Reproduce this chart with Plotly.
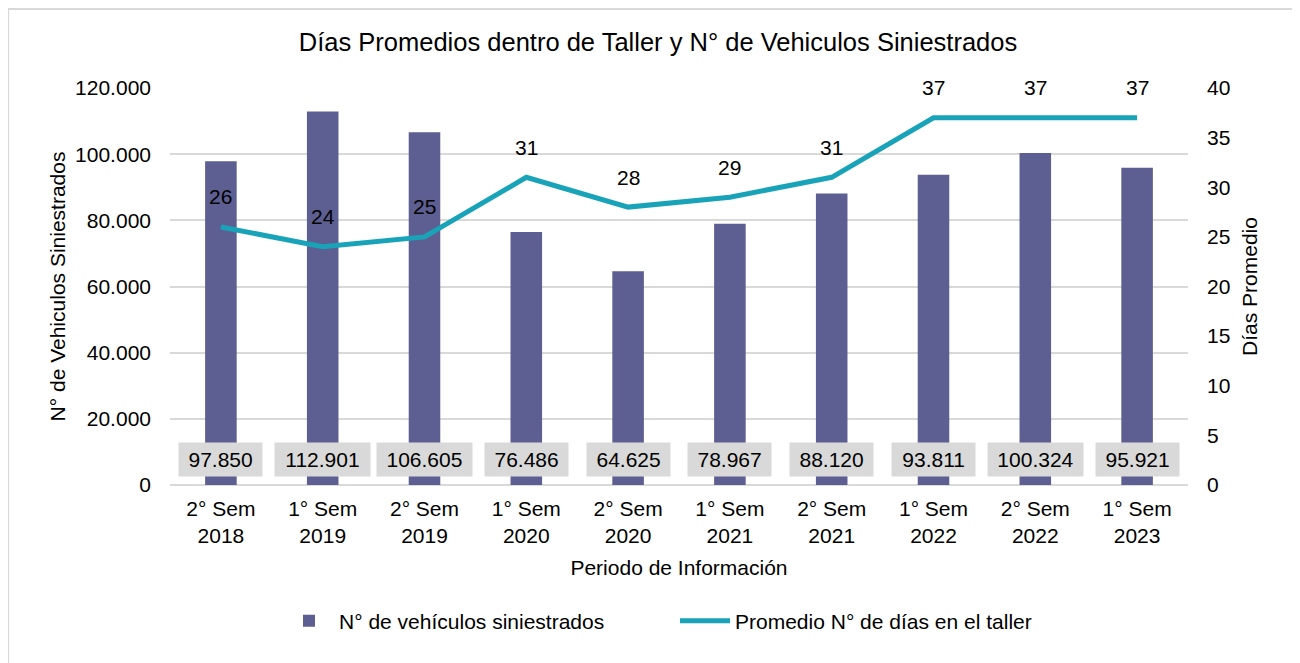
import plotly.graph_objects as go

categories = ["2° Sem<br>2018", "1° Sem<br>2019", "2° Sem<br>2019", "1° Sem<br>2020", "2° Sem<br>2020",
              "1° Sem<br>2021", "2° Sem<br>2021", "1° Sem<br>2022", "2° Sem<br>2022", "1° Sem<br>2023"]
vehiculos = [97850, 112901, 106605, 76486, 64625, 78967, 88120, 93811, 100324, 95921]
dias = [26, 24, 25, 31, 28, 29, 31, 37, 37, 37]
left_ticks = [0, 20000, 40000, 60000, 80000, 100000, 120000]
right_ticks = [0, 5, 10, 15, 20, 25, 30, 35, 40]

FONT = "Liberation Sans, Arial, sans-serif"
BAR_COLOR = "#5d5e91"
LINE_COLOR = "#19a3b9"
GRID = "#d9d9d9"
FS = 21

fig = go.Figure()
fig.add_trace(go.Bar(x=categories, y=vehiculos, name="N° de vehículos siniestrados",
                     marker=dict(color=BAR_COLOR, line=dict(width=0)), width=0.31))
fig.add_trace(go.Scatter(x=categories, y=dias, name="Promedio N° de días en el taller",
                         yaxis="y2", mode="lines", line=dict(color=LINE_COLOR, width=5)))

def fmt(v):
    return f"{v:,}".replace(",", ".")

annotations = []
for c, v in zip(categories, vehiculos):
    s = fmt(v)
    digits = sum(ch.isdigit() for ch in s)
    w = digits * 11.68 + (len(s) - digits) * 5.84 + 13
    annotations.append(dict(x=c, y=0, xref="x", yref="y", text=s, showarrow=False,
                            yanchor="bottom", yshift=8, bgcolor=GRID, borderpad=3,
                            width=w, height=27, font=dict(size=FS, color="#000", family=FONT)))
for c, d in zip(categories, dias):
    annotations.append(dict(x=c, y=d, xref="x", yref="y2", text=str(d), showarrow=False,
                            yshift=30, font=dict(size=FS, color="#000", family=FONT)))

fig.update_layout(
    width=1300, height=663,
    margin=dict(l=162, r=120, t=80, b=186),
    paper_bgcolor="white", plot_bgcolor="white",
    font=dict(family=FONT, size=FS, color="#000"),
    separators=",.",
    title=dict(text="Días Promedios dentro de Taller y N° de Vehiculos Siniestrados",
               x=0.5, xanchor="center", y=1 - 34 / 663, yanchor="middle",
               font=dict(size=25.5, color="#000", family=FONT)),
    xaxis=dict(showgrid=False, showline=False, ticks="", ticklabelstandoff=9,
               title=dict(text="Periodo de Información", standoff=14, font=dict(size=FS))),
    yaxis=dict(range=[0, 120000], tickvals=left_ticks, tickformat=",d",
               showgrid=True, gridcolor=GRID, gridwidth=2, zeroline=True, zerolinecolor=GRID,
               zerolinewidth=2, showline=False, ticks="", ticklabelstandoff=18,
               title=dict(text="N° de Vehiculos Siniestrados", standoff=3, font=dict(size=FS))),
    yaxis2=dict(range=[0, 40], tickvals=right_ticks, overlaying="y", side="right",
                showgrid=False, zeroline=False, showline=False, ticks="", ticklabelstandoff=18,
                title=dict(text="Días Promedio", standoff=12, font=dict(size=FS))),
    legend=dict(orientation="h", x=(279 - 170) / 1018, xanchor="left", y=-0.3426, yanchor="middle",
                font=dict(size=FS), entrywidth=331, itemwidth=50),
    showlegend=True,
    annotations=annotations,
    shapes=[dict(type="rect", xref="paper", yref="paper", x0=-0.159, x1=1.106, y0=-0.6, y1=1.199,
                 line=dict(color=GRID, width=2), fillcolor="rgba(0,0,0,0)", layer="below")],
    bargap=0.69,
)

fig.write_html("out.html")
